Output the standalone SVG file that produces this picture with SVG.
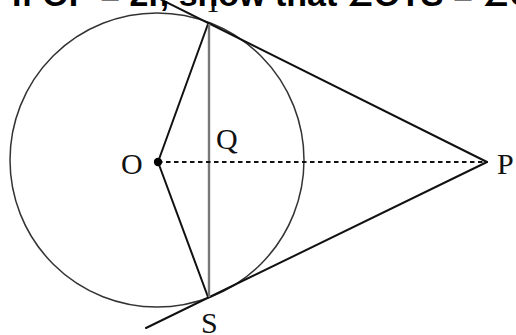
<svg xmlns="http://www.w3.org/2000/svg" width="516" height="335" viewBox="0 0 516 335">
<style>
.lbl{font-family:"Liberation Serif","Times New Roman",serif;font-size:30px;fill:#111}
.ln{stroke:#111;stroke-width:2;fill:none;stroke-linecap:round}
.chord{stroke:#777;stroke-width:2.4;fill:none}
.dash{stroke:#111;stroke-width:2;stroke-dasharray:4.5 3.5;fill:none}
.circ{stroke:#333;stroke-width:1.5;fill:none}
.title{font-family:"Liberation Sans",Arial,sans-serif;font-weight:bold;font-size:34px;fill:#000}
.ang{font-family:"DejaVu Sans",sans-serif;font-size:30px}
</style>
<rect width="516" height="335" fill="#fff"/>
<g id="circle"><circle class="circ" cx="157" cy="160" r="147"/></g>
<g id="connectors">
<line class="ln" x1="160" y1="-1" x2="487" y2="162"/>
<line class="ln" x1="146" y1="328" x2="487" y2="162"/>
<line class="ln" x1="158" y1="162" x2="208" y2="24"/>
<line class="ln" x1="158" y1="162" x2="208" y2="297"/>
<line class="chord" x1="209" y1="24" x2="209" y2="297"/>
<line class="dash" x1="158" y1="162" x2="487" y2="162"/>
</g>
<g id="O"><circle cx="158" cy="162" r="4.2" fill="#000"/><text class="lbl" x="121" y="174">O</text></g>
<g id="Q"><text class="lbl" x="216" y="149">Q</text></g>
<g id="P"><text class="lbl" x="497" y="174">P</text></g>
<g id="S"><text class="lbl" x="201" y="333">S</text></g>
<g id="T"><text class="lbl" x="204" y="12">T</text></g>
<text class="title" x="12" y="6">If OP = 2r, show that <tspan class="ang">∠</tspan>OTS = <tspan class="ang">∠</tspan>OST = 30°</text>
</svg>
